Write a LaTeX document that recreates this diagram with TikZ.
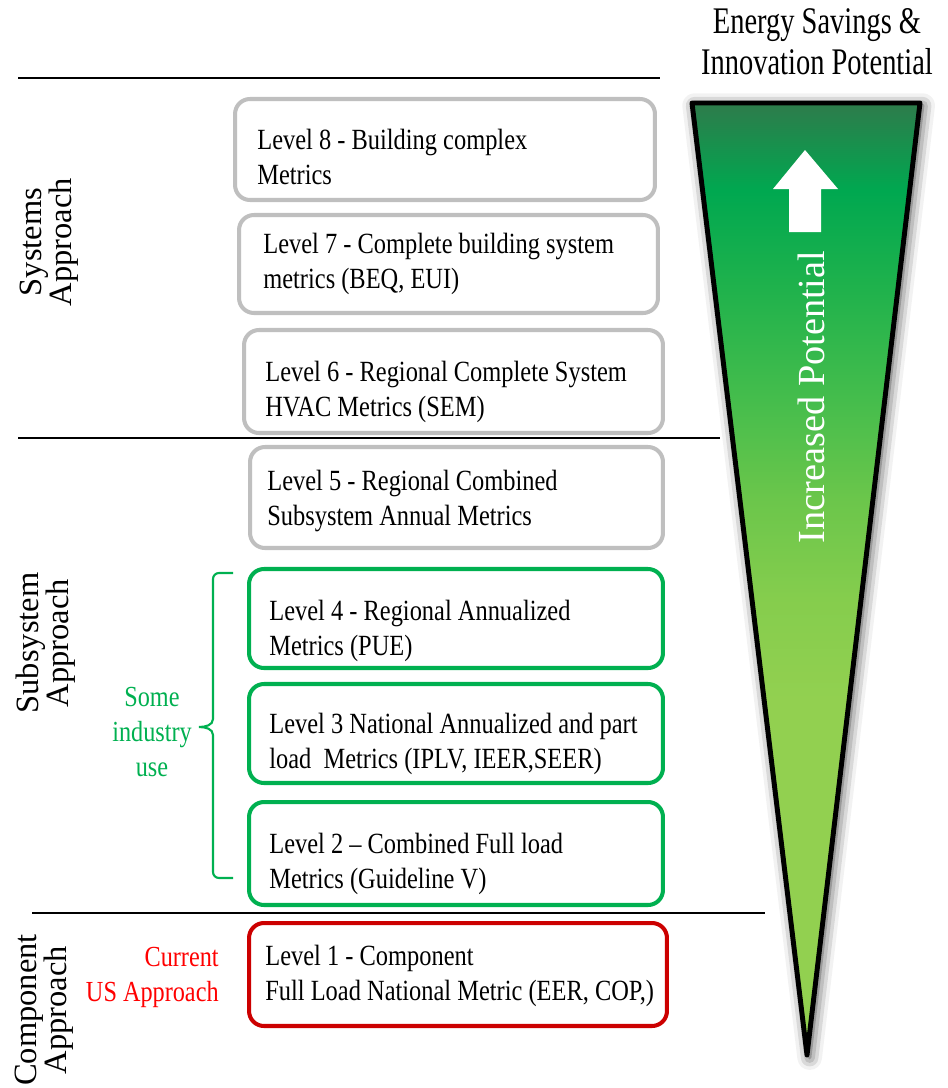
\documentclass[tikz,border=0pt]{standalone}
\usepackage{fontspec}
\setmainfont{Liberation Serif}
\usetikzlibrary{shadows.blur}
\definecolor{boxgray}{HTML}{BFBFBF}
\definecolor{boxgreen}{HTML}{00B050}
\definecolor{boxred}{HTML}{CC0000}
\definecolor{txtred}{HTML}{FF0000}
\definecolor{tg0}{HTML}{2E7B4B}
\definecolor{tg1}{HTML}{00A850}
\definecolor{tg2}{HTML}{20B24C}
\definecolor{tg3}{HTML}{45BD4C}
\definecolor{tg4}{HTML}{6BC64B}
\definecolor{tg5}{HTML}{85CD4D}
\definecolor{tg6}{HTML}{92D050}
\pgfdeclareverticalshading{potential}{100bp}{color(0bp)=(tg6); color(43.7bp)=(tg6); color(49bp)=(tg5); color(54.2bp)=(tg4); color(59.4bp)=(tg3); color(65.2bp)=(tg2); color(70.4bp)=(tg1); color(75bp)=(tg0); color(100bp)=(tg0)}
\tikzset{
  lvbox/.style={draw=#1, line width=2.3pt, rounded corners=8.5pt, inner sep=0pt, fill=white},
  lvtext/.style={anchor=north west, inner sep=0pt, align=left, font=\fontsize{13.9}{16.45}\selectfont, yscale=1.2},
  sidelabel/.style={rotate=90, align=center, inner sep=0pt, font=\fontsize{18.5}{17}\selectfont},
  sepline/.style={line width=1.2pt, black},
  notetext/.style={inner sep=0pt, font=\fontsize{13.8}{16.5}\selectfont, yscale=1.2}
}
\begin{document}
\begin{tikzpicture}[x=0.02cm, y=-0.02cm]
\useasboundingbox (0,0) rectangle (947,1088);

% separator lines
\draw[sepline] (18,78) -- (660,78);
\draw[sepline] (18,438) -- (720,438);
\draw[sepline] (32,913) -- (765,913);

% potential wedge
\shadedraw[shading=potential, draw=black, line width=2.8pt, line join=round,
  blur shadow={shadow xshift=1.5pt, shadow yshift=-1.5pt, shadow blur radius=7pt, shadow opacity=80}]
  (692,103) -- (920,103) -- (807,1055) -- cycle;
\fill[white] (805,150) -- (838,189) -- (821,189) -- (821,232) -- (789,232) -- (789,189) -- (773,189) -- cycle;
\node[rotate=90, inner sep=0pt, text=white, font=\fontsize{21.8}{24}\selectfont] (incr) at (811,397) {Increased Potential};

% title
\node[font=\fontsize{16.2}{17.6}\selectfont, align=center, anchor=north, inner sep=0pt, yscale=1.32] (title) at (817,8) {Energy Savings \&\\Innovation Potential};

% level boxes
\node[lvbox=boxgray, minimum width=8.40cm, minimum height=2.02cm] (b8) at (445,149.5) {};
\node[lvbox=boxgray, minimum width=8.38cm, minimum height=1.96cm] (b7) at (448.5,264) {};
\node[lvbox=boxgray, minimum width=8.38cm, minimum height=2.06cm] (b6) at (453.5,381.5) {};
\node[lvbox=boxgray, minimum width=8.26cm, minimum height=2.02cm] (b5) at (456.5,497.5) {};
\node[lvbox=boxgreen, minimum width=8.28cm, minimum height=1.98cm] (b4) at (456,618.5) {};
\node[lvbox=boxgreen, minimum width=8.28cm, minimum height=1.98cm] (b3) at (456,733.5) {};
\node[lvbox=boxgreen, minimum width=8.28cm, minimum height=2.06cm] (b2) at (456,853.5) {};
\node[lvbox=boxred, minimum width=8.36cm, minimum height=2.06cm] (b1) at (458,974.5) {};

\node[lvtext] (t8) at (257,129) {Level 8 - Building complex\\Metrics};
\node[lvtext] (t7) at (263,233) {Level 7 - Complete building system\\metrics (BEQ, EUI)};
\node[lvtext] (t6) at (265,361) {Level 6 - Regional Complete System\\HVAC Metrics (SEM)};
\node[lvtext] (t5) at (267,470) {Level 5 - Regional Combined\\Subsystem Annual Metrics};
\node[lvtext] (t4) at (269,600) {Level 4 - Regional Annualized\\Metrics (PUE)};
\node[lvtext] (t3) at (269,713) {Level 3 National Annualized and part\\load\ \ Metrics (IPLV, IEER,SEER)};
\node[lvtext] (t2) at (269,833) {Level 2 – Combined Full load\\Metrics (Guideline V)};
\node[lvtext] (t1) at (265,945) {Level 1 - Component\\Full Load National Metric (EER, COP,)};

% side labels
\node[sidelabel] (sys) at (49,242) {Systems\\Approach};
\node[sidelabel] (sub) at (46,643) {Subsystem\\Approach};
\node[sidelabel] (comp) at (44,1010) {Component\\Approach};

% brace and notes
\draw[boxgreen, line width=1.2pt] (233,573) -- (219,573) to[out=180,in=90] (213,579) -- (213,719)
  to[out=-90,in=0] (199,727) to[out=0,in=90] (213,735) -- (213,872) to[out=-90,in=180] (219,878) -- (233,878);
\node[notetext, text=boxgreen, align=center, anchor=north] (some) at (152,687) {Some\\industry\\use};
\node[notetext, text=txtred, align=right, anchor=north east] (cur) at (219,947) {Current\\US Approach};
\end{tikzpicture}
\end{document}
